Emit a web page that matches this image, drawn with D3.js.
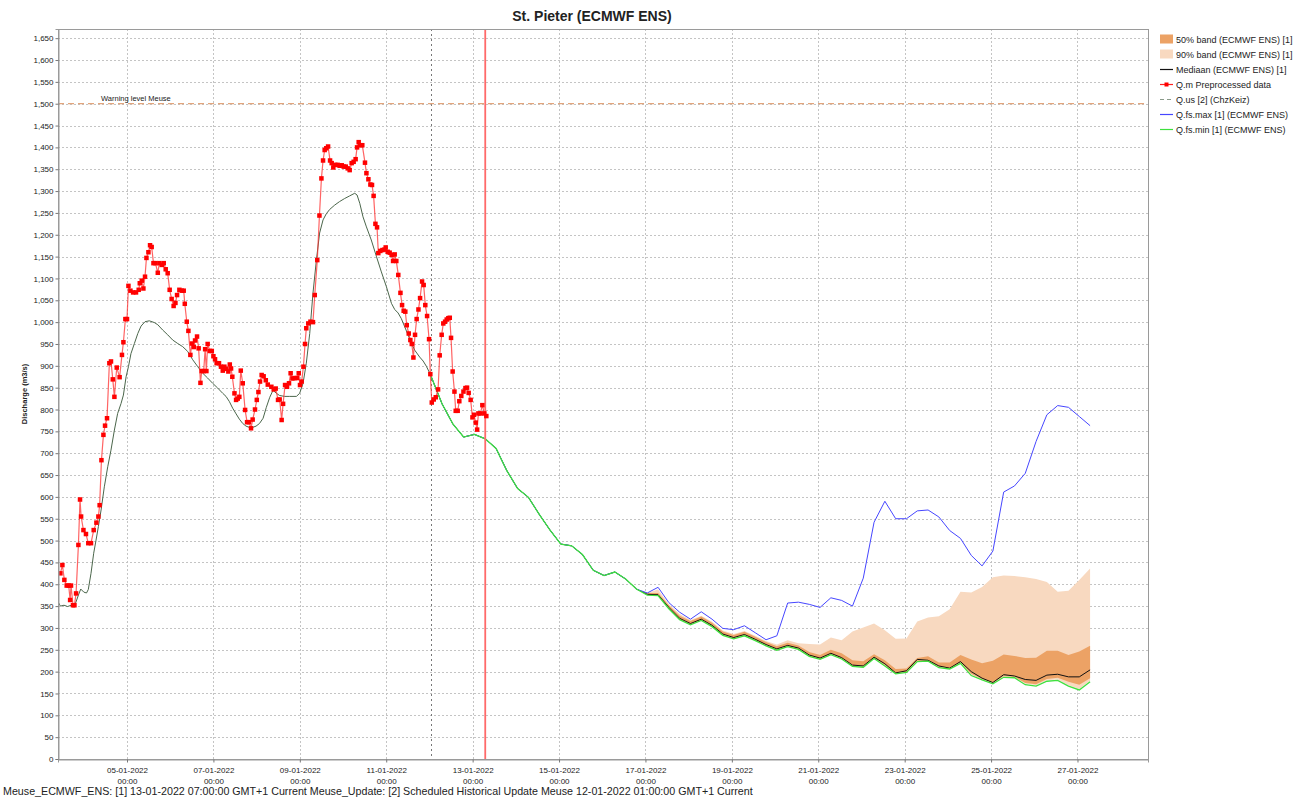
<!DOCTYPE html>
<html>
<head>
<style>
body { margin: 0; background: #fff; }
text { font-family: "Liberation Sans", Arial, sans-serif; fill: #222; }
</style>
</head>
<body>
<script src="https://d3js.org/d3.v7.min.js"></script>
<script>
// all times in hours counted from 03-01-2022 00:00 (GMT+1 shown as plain clock)
var origin = Date.UTC(2022, 0, 3, 0, 0);

// Q.m Preprocessed data [hour, m3/s]
var observed = [[11.0,425],[12.1,444],[13.2,410],[14.5,397],[15.6,397],[16.4,364],[16.9,397],[18.0,352],[18.8,352],[19.7,379],
  [21.0,490],[21.9,594],[22.5,555],[23.8,524],[25.2,515],[26.5,494],[28.0,494],[29.5,524],[31.0,541],[32.1,555],
  [32.8,581],[33.8,684],[34.9,742],[35.8,763],[36.9,780],[38.2,906],[39.1,910],[40.1,869],[41.0,829],[42.3,896],
  [43.9,874],[45.2,925],[46.0,954],[47.1,1007],[48.0,1007],[48.8,1083],[49.9,1072],[51.4,1068],[53.0,1068],[54.5,1074],
  [55.1,1089],[56.2,1095],[57.1,1077],[58.0,1104],[58.8,1147],[59.9,1160],[60.8,1176],[61.7,1172],[62.7,1135],[63.8,1135],
  [65.1,1113],[66.0,1135],[67.3,1131],[68.4,1135],[69.5,1121],[70.6,1112],[71.7,1074],[72.8,1053],[73.9,1037],[74.9,1044],
  [75.8,1062],[77.1,1074],[78.4,1072],[79.5,1072],[80.1,1042],[81.2,1001],[82.1,980],[83.2,925],[84.1,951],[85.1,943],
  [85.8,958],[86.9,967],[87.8,940],[88.8,861],[89.5,888],[90.6,888],[91.4,938],[92.1,888],[92.8,950],[94.0,934],
  [95.1,934],[96.0,922],[96.9,915],[97.8,906],[99.1,906],[100.2,898],[101.2,889],[102.1,898],[103.2,893],[104.3,887],
  [105.1,903],[105.8,894],[106.5,875],[107.7,837],[108.6,822],[109.5,825],[110.4,829],[111.2,889],[112.3,860],[113.6,799],
  [114.7,771],[115.8,771],[116.9,757],[117.8,777],[119.1,800],[120.1,822],[121.0,840],[121.9,864],[122.8,879],[123.9,876],
  [125.1,867],[126.2,857],[128.2,852],[129.5,846],[130.6,848],[131.9,822],[132.8,823],[133.9,776],[134.7,813],[135.8,856],
  [136.9,852],[138.0,860],[138.9,883],[139.9,871],[141.1,872],[142.4,872],[143.4,883],[144.1,856],[145.0,864],[146.0,898],
  [146.9,950],[147.6,986],[148.7,997],[149.9,1001],[151.3,1000],[152.3,1062],[153.7,1142],[154.9,1244],[156.0,1329],[156.9,1370],
  [157.8,1394],[158.7,1398],[159.7,1402],[160.8,1370],[161.7,1364],[162.6,1354],[163.7,1360],[165.0,1360],[166.1,1358],[167.3,1359],
  [168.4,1356],[169.5,1356],[170.6,1352],[171.7,1348],[172.8,1364],[173.9,1367],[175.0,1373],[175.8,1400],[176.7,1412],[177.6,1405],
  [178.7,1405],[180.2,1365],[181.0,1341],[182.1,1327],[183.2,1315],[184.1,1314],[185.0,1289],[186.0,1225],[186.9,1217],[187.6,1158],
  [188.7,1163],[189.9,1165],[191.0,1166],[191.7,1171],[192.8,1161],[193.9,1159],[195.0,1154],[195.8,1140],[196.7,1155],[197.6,1140],
  [198.7,1108],[199.9,1067],[200.8,1039],[201.7,1026],[202.6,1024],[203.4,993],[204.5,974],[205.4,959],[206.2,950],[207.1,919],
  [208.0,971],[208.9,1007],[209.9,1029],[210.8,1055],[211.9,1093],[212.8,1085],[213.7,1039],[214.7,1014],[215.8,961],[216.5,881],
  [217.3,816],[218.4,823],[219.5,828],[220.8,846],[221.7,924],[222.8,971],[223.7,997],[224.7,1001],[225.6,1006],[226.5,1009],
  [227.3,1010],[228.0,964],[228.9,887],[229.9,841],[230.6,797],[231.7,797],[232.6,819],[233.7,831],[234.9,841],[236.0,849],
  [236.9,850],[237.8,838],[238.9,822],[239.9,782],[240.8,788],[241.7,770],[242.5,754],[243.2,791],[244.3,791],[245.4,810],
  [246.5,791],[247.6,785]];

// simulated discharge before the forecast
var historical = [[9.7,360],[11,350],[13,352],[15,349],[17,352],[19,352],[21,375],[22.3,389],[24,382],[25.5,380],
  [26.5,388],[28,425],[29.5,471],[30.8,501],[32.1,532],[33.6,570],[35.4,623],[37.3,669],[39.1,707],[41,753],
  [42.8,791],[44.7,814],[46,833],[47.5,875],[48.8,898],[50.2,928],[52.1,951],[54,974],[55.8,991],[58,1001],
  [60.4,1003],[63.2,999],[65.1,994],[67.8,982],[70.6,971],[73.4,959],[76.2,951],[78.9,944],[81.7,933],[84.5,914],
  [87.3,898],[90.1,883],[92.8,872],[95.6,860],[98.4,849],[101.2,837],[103,830],[104.9,818],[106.7,803],[108.6,790],
  [110.4,778],[112.3,768],[114.1,762],[116,759],[117.8,759],[119.7,762],[121.6,768],[123.6,780],[125.4,805],[127.3,828],
  [129.1,844],[131,837],[132.8,832],[135.6,830],[138.4,830],[142.1,830],[143.9,837],[145.8,860],[147.6,906],[149.5,974],
  [151.3,1066],[153.2,1142],[155,1204],[156.9,1234],[158.7,1248],[160.6,1258],[163.4,1268],[166.1,1276],[168.9,1283],[171.7,1289],
  [174.5,1295],[175.8,1291],[177.3,1272],[179.1,1241],[181,1218],[183.7,1188],[186.5,1151],[189.3,1115],[192.1,1081],[194.9,1043],
  [196.7,1029],[198.6,1021],[200.4,1008],[202.3,989],[204.1,971],[206,952],[207.8,936],[210.6,920],[212.5,911],[214.3,899],
  [216.2,883],[217,875]];

// ECMWF ENS forecast, 6-hourly from 12-01-2022 01:00 (hour 217)
var fcStartHour = 217, fcStep = 6;
var fcCommon = [875, 813, 767, 737, 743, 733, 711, 660, 619, 599, 560, 524, 492, 488, 468, 432, 420, 428, 412, 389];
var fcMax    = [380, 393, 358, 336, 320, 337, 320, 299, 296, 305, 289, 273, 282, 357, 359, 354, 347, 369, 363, 350,
                414, 542, 590, 550, 550, 568, 570, 554, 523, 505, 466, 442, 476, 611, 625, 654, 727, 788, 809, 805, 784, 763];
var fcP95    = [380, 388, 354, 332, 318, 328, 314, 294, 286, 293, 282, 270, 262, 272, 265, 263, 262, 278, 272, 292,
                301, 310, 295, 275, 276, 315, 324, 327, 343, 383, 381, 394, 416, 420, 419, 416, 412, 405, 383, 385, 410, 436];
var fcP75    = [380, 380, 352, 328, 316, 326, 312, 292, 284, 291, 280, 268, 258, 266, 260, 245, 238, 250, 242, 226,
                224, 240, 226, 206, 207, 231, 235, 221, 221, 238, 228, 219, 225, 239, 236, 231, 232, 248, 248, 238, 246, 259];
var fcMedian = [377, 376, 347, 322, 310, 320, 306, 286, 278, 285, 274, 262, 252, 260, 254, 238, 231, 242, 232, 215,
                213, 233, 218, 197, 202, 228, 226, 213, 208, 223, 200, 185, 175, 193, 190, 182, 180, 192, 194, 188, 188, 204];
var fcP25    = [376, 375, 345, 320, 308, 318, 304, 284, 276, 283, 272, 260, 250, 258, 252, 236, 229, 240, 230, 213,
                211, 231, 215, 196, 199, 225, 225, 211, 207, 221, 195, 183, 174, 190, 188, 174, 171, 183, 186, 177, 170, 185];
var fcP5     = [375, 374, 345, 319, 308, 317, 303, 283, 275, 282, 271, 259, 249, 257, 251, 235, 228, 239, 229, 212,
                210, 230, 214, 195, 198, 224, 224, 210, 206, 220, 193, 182, 173, 188, 187, 172, 169, 180, 182, 169, 160, 179];
var fcMin    = [375, 374, 344, 319, 307, 317, 303, 283, 275, 282, 271, 259, 249, 257, 251, 235, 228, 239, 229, 212,
                210, 230, 213, 195, 198, 223, 224, 209, 206, 219, 191, 181, 172, 187, 186, 170, 167, 178, 180, 167, 158, 177];

var warningLevel = 1500;
var t0Hour = 247;          // 13-01-2022 07:00
var histUpdateHour = 217;  // 12-01-2022 01:00

var legendLabels = ["50% band (ECMWF ENS) [1]", "90% band (ECMWF ENS) [1]", "Mediaan (ECMWF ENS) [1]",
  "Q.m Preprocessed data", "Q.us [2] (ChzKeiz)", "Q.fs.max [1] (ECMWF ENS)", "Q.fs.min [1] (ECMWF ENS)"];
var titleText = "St. Pieter (ECMWF ENS)";
var footText = "Meuse_ECMWF_ENS: [1] 13-01-2022 07:00:00 GMT+1 Current Meuse_Update: [2] Scheduled Historical Update Meuse 12-01-2022 01:00:00 GMT+1 Current";

function toDate(h){ return new Date(origin + h * 3600e3); }

var W = 1308, H = 800;
var pLeft = 58, pRight = 1148, pTop = 29, pBottom = 759;

var svg = d3.select("body").append("svg")
    .attr("width", W)
    .attr("height", H);

var x = d3.scaleUtc()
    .domain([toDate(9.667), toDate(615.17)])
    .range([pLeft, pRight]);

var y = d3.scaleLinear()
    .domain([0, 1671])
    .range([pBottom, pTop]);

// forecast table
var forecast = [];
fcCommon.forEach(function(v, i){
  forecast.push({h: fcStartHour + i * fcStep, min: v, p5: v, p25: v, med: v, p75: v, p95: v, max: v});
});
fcMin.forEach(function(v, i){
  forecast.push({h: fcStartHour + (fcCommon.length + i) * fcStep, min: v, p5: fcP5[i], p25: fcP25[i],
    med: fcMedian[i], p75: fcP75[i], p95: fcP95[i], max: fcMax[i]});
});

// grid
var yTicks = d3.range(0, 1651, 50);
var xTicks = x.ticks(d3.utcDay.every(2));

svg.append("g").selectAll("line")
    .data(yTicks.filter(function(d){ return d > 0; }))
  .enter().append("line")
    .attr("x1", pLeft).attr("x2", pRight)
    .attr("y1", function(d){ return Math.round(y(d)) + 0.5; })
    .attr("y2", function(d){ return Math.round(y(d)) + 0.5; })
    .attr("stroke", "#c4c4c4")
    .attr("stroke-dasharray", "2,2");

svg.append("g").selectAll("line")
    .data(xTicks)
  .enter().append("line")
    .attr("x1", function(d){ return Math.round(x(d)) + 0.5; })
    .attr("x2", function(d){ return Math.round(x(d)) + 0.5; })
    .attr("y1", pTop).attr("y2", pBottom)
    .attr("stroke", "#c4c4c4")
    .attr("stroke-dasharray", "2,2");

svg.append("defs").append("clipPath").attr("id", "plot")
  .append("rect").attr("x", pLeft).attr("y", pTop).attr("width", pRight - pLeft).attr("height", pBottom - pTop);

var plot = svg.append("g").attr("clip-path", "url(#plot)");

function band(lo, hi){
  return d3.area()
    .x(function(d){ return x(toDate(d.h)); })
    .y0(function(d){ return y(d[lo]); })
    .y1(function(d){ return y(d[hi]); });
}
function fcLine(key){
  return d3.line()
    .x(function(d){ return x(toDate(d.h)); })
    .y(function(d){ return y(d[key]); });
}
var pairLine = d3.line()
    .x(function(d){ return x(toDate(d[0])); })
    .y(function(d){ return y(d[1]); });

plot.append("path").datum(forecast).attr("d", band("p5", "p95")).attr("fill", "#f8d9c0");
plot.append("path").datum(forecast).attr("d", band("p25", "p75")).attr("fill", "#eca265");

// dotted line at the historical update time
plot.append("line")
    .attr("x1", Math.round(x(toDate(histUpdateHour))) + 0.5)
    .attr("x2", Math.round(x(toDate(histUpdateHour))) + 0.5)
    .attr("y1", pTop).attr("y2", pBottom)
    .attr("stroke", "#777").attr("stroke-dasharray", "2,3");

// warning level
plot.append("line")
    .attr("x1", pLeft).attr("x2", pRight)
    .attr("y1", y(warningLevel)).attr("y2", y(warningLevel))
    .attr("stroke", "#e2a57c").attr("stroke-width", 1.3)
    .attr("stroke-dasharray", "6,4");
svg.append("text")
    .attr("x", 101).attr("y", y(warningLevel) - 3)
    .style("font-size", "7.5px")
    .attr("fill", "#333")
    .text("Warning level Meuse");

plot.append("path").datum(historical).attr("d", pairLine)
    .attr("fill", "none").attr("stroke", "#4b664b").attr("stroke-width", 1);

plot.append("path").datum(forecast).attr("d", fcLine("med"))
    .attr("fill", "none").attr("stroke", "#111").attr("stroke-width", 1);
plot.append("path").datum(forecast).attr("d", fcLine("max"))
    .attr("fill", "none").attr("stroke", "#4646ff").attr("stroke-width", 1);
plot.append("path").datum(forecast).attr("d", fcLine("min"))
    .attr("fill", "none").attr("stroke", "#3ee03e").attr("stroke-width", 1.3);

// forecast time line
plot.append("line")
    .attr("x1", x(toDate(t0Hour))).attr("x2", x(toDate(t0Hour)))
    .attr("y1", pTop).attr("y2", pBottom)
    .attr("stroke", "#ff6a6a").attr("stroke-width", 1.8);

plot.append("path").datum(observed).attr("d", pairLine)
    .attr("fill", "none").attr("stroke", "#ff3030").attr("stroke-opacity", 0.75).attr("stroke-width", 1.2);
plot.append("g").selectAll("rect")
    .data(observed)
  .enter().append("rect")
    .attr("x", function(d){ return x(toDate(d[0])) - 2.25; })
    .attr("y", function(d){ return y(d[1]) - 2.25; })
    .attr("width", 4.5).attr("height", 4.5)
    .attr("fill", "#f00");

// frame
svg.append("rect")
    .attr("x", pLeft + 0.5).attr("y", pTop + 0.5)
    .attr("width", pRight - pLeft).attr("height", pBottom - pTop)
    .attr("fill", "none").attr("stroke", "#9a9a9a");

// axes
var yAxis = svg.append("g")
    .attr("transform", "translate(" + (pLeft + 0.5) + ",0)")
    .call(d3.axisLeft(y).tickValues(yTicks).tickFormat(d3.format(",")).tickSize(3).tickPadding(2));
yAxis.select(".domain").attr("stroke", "#9a9a9a");
yAxis.selectAll(".tick line").attr("stroke", "#777");
yAxis.selectAll("text").style("font-size", "8px").attr("fill", "#333");

var xAxis = svg.append("g")
    .attr("transform", "translate(0," + (pBottom + 0.5) + ")")
    .call(d3.axisBottom(x).tickValues(xTicks).tickFormat("").tickSize(3));
xAxis.select(".domain").attr("stroke", "#9a9a9a");
xAxis.selectAll(".tick line").attr("stroke", "#777");
var fmtDate = d3.utcFormat("%d-%m-%Y"), fmtTime = d3.utcFormat("%H:%M");
xAxis.selectAll(".tick").each(function(d){
  var t = d3.select(this).select("text").text(null).attr("y", 0).attr("dy", null)
      .style("font-size", "8px").attr("fill", "#333");
  t.append("tspan").attr("x", 0).attr("y", 13).text(fmtDate(d));
  t.append("tspan").attr("x", 0).attr("y", 24).text(fmtTime(d));
});

svg.append("text")
    .attr("transform", "translate(27," + ((pTop + pBottom) / 2) + ") rotate(-90)")
    .attr("text-anchor", "middle")
    .style("font-size", "7.5px").style("font-weight", "bold")
    .text("Discharge (m3/s)");

svg.append("text")
    .attr("x", 592).attr("y", 21)
    .attr("text-anchor", "middle")
    .style("font-size", "14px").style("font-weight", "bold")
    .text(titleText);

svg.append("text")
    .attr("x", 3).attr("y", 795)
    .style("font-size", "10.7px")
    .text(footText);

// legend
var lg = svg.append("g").attr("transform", "translate(1160,39)");
legendLabels.forEach(function(label, i){
  var g = lg.append("g").attr("transform", "translate(0," + (i * 15) + ")");
  if (i === 0 || i === 1) {
    g.append("rect").attr("x", 0).attr("y", -4.5).attr("width", 13).attr("height", 9)
      .attr("fill", i === 0 ? "#eca265" : "#f8d9c0");
  } else {
    var col = ["", "", "#111", "#ff2020", "#8a9a8a", "#4646ff", "#3ee03e"][i];
    var ln = g.append("line").attr("x1", 0).attr("x2", 13).attr("y1", 0.5).attr("y2", 0.5)
      .attr("stroke", col).attr("stroke-width", 1.2);
    if (i === 4) ln.attr("stroke-dasharray", "4,3");
    if (i === 3) g.append("rect").attr("x", 4.5).attr("y", -1.5).attr("width", 4).attr("height", 4).attr("fill", "#f00");
  }
  g.append("text").attr("x", 16).attr("y", 3.5)
    .style("font-size", "9px").attr("fill", "#222")
    .text(label);
});
</script>
</body>
</html>
